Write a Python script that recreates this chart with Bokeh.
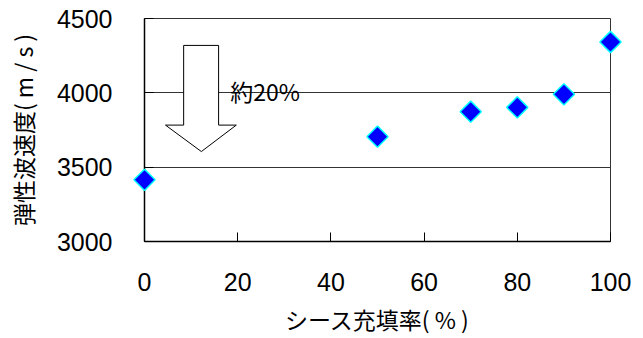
from bokeh.plotting import figure
from bokeh.models import FixedTicker, ColumnDataSource
from bokeh.embed import file_html
from bokeh.resources import INLINE
from bokeh.core.properties import value

# Data
fill_rate = [0, 50, 70, 80, 90, 100]
velocity = [3415, 3705, 3873, 3902, 3990, 4342]
x_ticks = [0, 20, 40, 60, 80, 100]
y_ticks = [3000, 3500, 4000, 4500]
x_title = "シース充填率( % )"
y_title = "弾性波速度( m / s )"
note = "約20%"

# Annotation arrow (data coordinates)
arrow_x = [8.4, 15.9, 15.9, 19.7, 12.2, 4.5, 8.4]
arrow_y = [4319, 4319, 3783, 3783, 3605, 3783, 3783]

p = figure(width=643, height=338, output_backend="svg", toolbar_location=None,
           x_range=(0, 100), y_range=(3000, 4500),
           min_border_left=144, min_border_right=33, min_border_top=18, min_border_bottom=96)
p.background_fill_color = "white"
p.border_fill_color = "white"
p.outline_line_color = "#333333"

p.xgrid.visible = False
p.ygrid.ticker = FixedTicker(ticks=y_ticks)
p.ygrid.grid_line_color = "#333333"
p.ygrid.grid_line_width = 1

for ax in (p.xaxis, p.yaxis):
    ax.axis_line_color = "black"
    ax.axis_line_width = 1.5
    ax.major_tick_in = 9
    ax.major_tick_out = 0
    ax.major_tick_line_color = "black"
    ax.minor_tick_line_color = None
    ax.major_label_text_font = "Liberation Sans"
    ax.major_label_text_font_size = "25px"
    ax.major_label_text_color = "black"
    ax.major_label_text_line_height = 1.0
    ax.axis_label_text_font = "Noto Sans CJK JP"
    ax.axis_label_text_font_size = "23px"
    ax.axis_label_text_font_style = "normal"
    ax.axis_label_text_color = "black"
    ax.axis_label_text_line_height = 1.0

p.xaxis.ticker = FixedTicker(ticks=x_ticks)
p.yaxis.ticker = FixedTicker(ticks=y_ticks)
p.xaxis.major_label_standoff = 31
p.yaxis.major_label_standoff = 32
p.xaxis.axis_label = x_title
p.yaxis.axis_label = y_title
p.xaxis.axis_label_standoff = 8
p.yaxis.axis_label_standoff = 14

p.patch(arrow_x, arrow_y, fill_color="white", line_color="black", line_width=1)

p.text(x=[18.4], y=[4010], text=[note], text_font=value("Noto Sans CJK JP"),
       text_font_size="23px", text_color="black", text_baseline="alphabetic", text_align="left")

src = ColumnDataSource(dict(x=fill_rate, y=velocity))
p.scatter("x", "y", source=src, marker="square", angle=0.785398, size=15,
          fill_color="#0000ff", line_color="#00ffff", line_width=1.5, level="overlay")

open("out.html", "w").write(file_html(p, INLINE))
